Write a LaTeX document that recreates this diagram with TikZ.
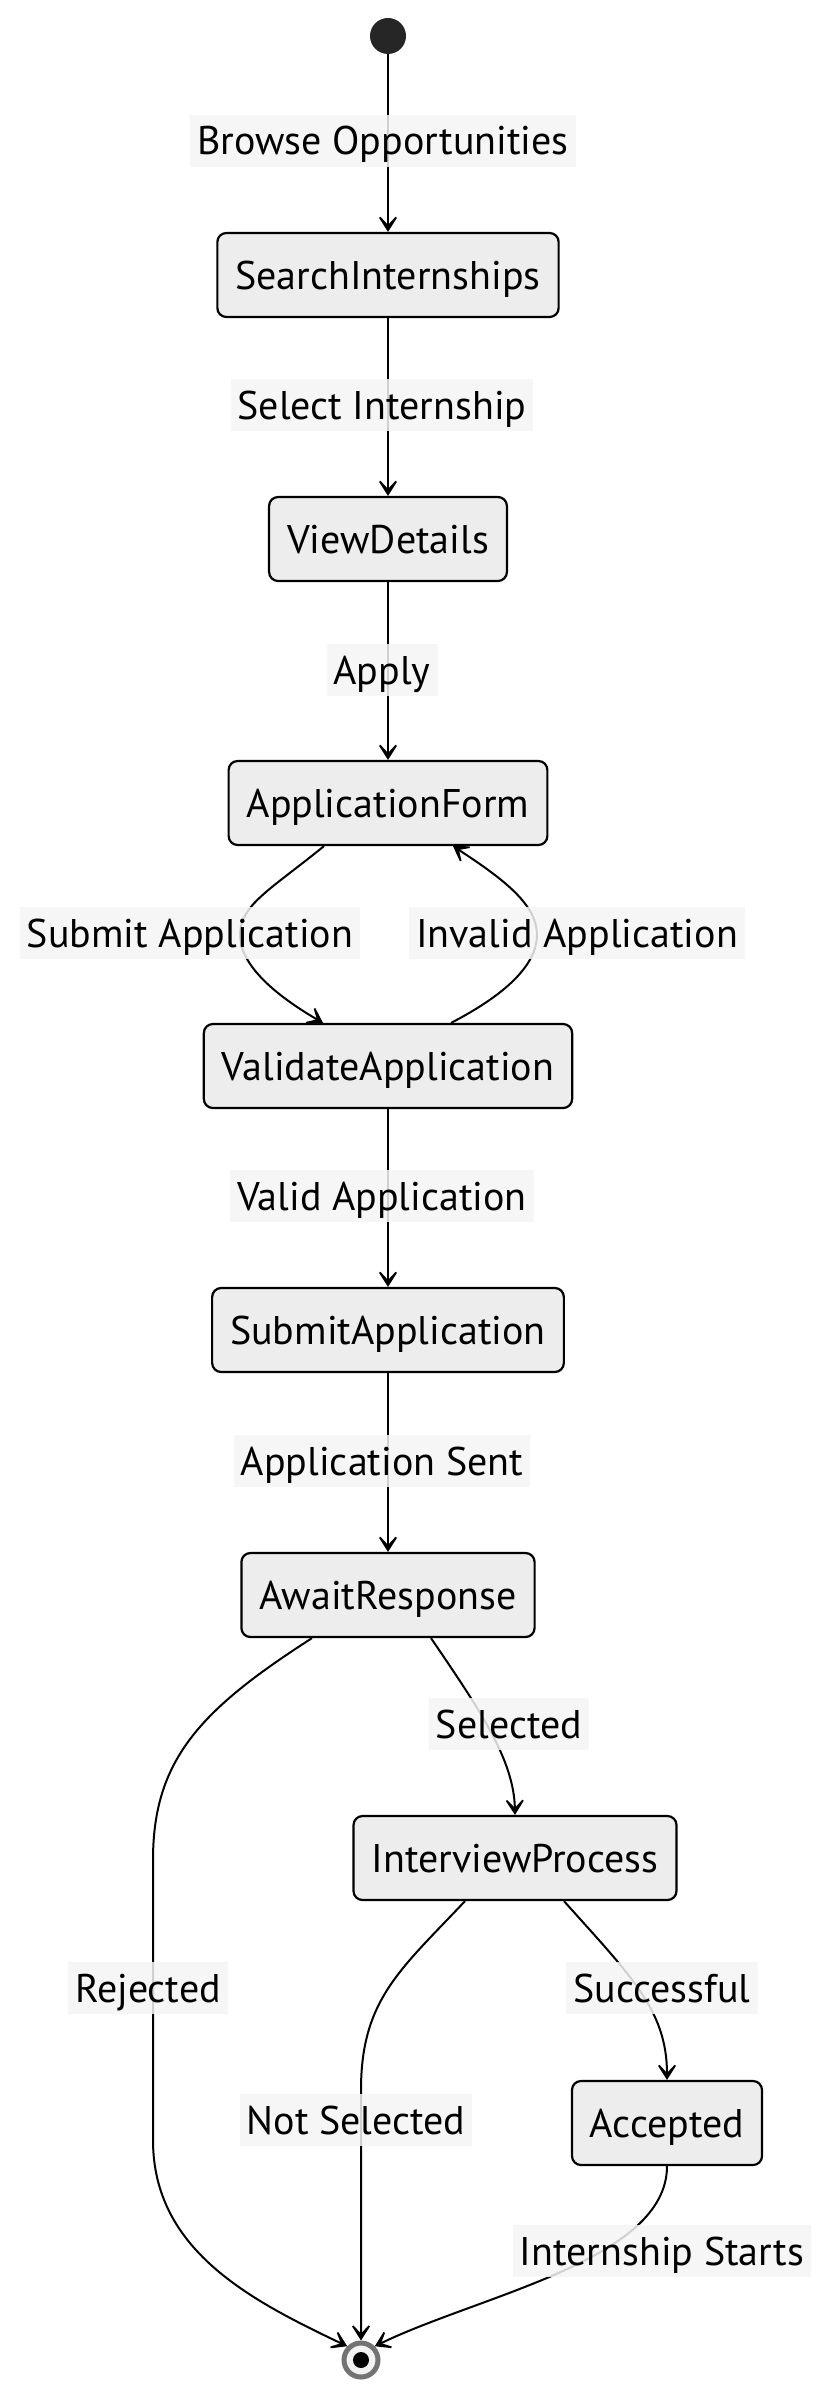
\documentclass[tikz,border=0pt]{standalone}
\usepackage{fontspec}
\setmainfont{PT Sans}
\usetikzlibrary{arrows.meta,calc}
\begin{document}
\begin{tikzpicture}[x=1pt,y=-1pt,
  state/.style={draw=black,line width=2.2pt,fill=gray!14,rounded corners=9pt,minimum height=84pt,inner xsep=18pt,text height=36pt,text depth=8pt,font=\fontsize{40}{44}\selectfont},
  lbl/.style={fill=gray!8,fill opacity=0.85,text opacity=1,inner xsep=7pt,minimum height=52pt,text height=36pt,text depth=8pt,inner ysep=1pt,font=\fontsize{40}{44}\selectfont},
  edge/.style={line width=2pt,-{Stealth[length=22pt,width=28pt,inset=15pt]}}]
\useasboundingbox (0,0) rectangle (832,2400);
\node[circle,fill=black!85,minimum size=36pt,inner sep=0pt] (start) at (388,36) {};
\node[state] (search) at (388,275) {SearchInternships};
\node[state] (view) at (388,539) {ViewDetails};
\node[state] (form) at (388,803) {ApplicationForm};
\node[state] (valid) at (388,1066) {ValidateApplication};
\node[state] (submit) at (388,1330) {SubmitApplication};
\node[state] (await) at (388,1595) {AwaitResponse};
\node[state] (interview) at (515,1858) {InterviewProcess};
\node[state] (accepted) at (667,2123) {Accepted};
\node[circle,draw=black!55,line width=5pt,fill=gray!10,minimum size=34pt,inner sep=0pt] (end) at (361,2360) {};
\fill[black] (end.center) circle (8pt);

\draw[edge] (start) -- (search.north);
\draw[edge] (search) -- (view.north);
\draw[edge] (view) -- (form.north);
\draw[edge] ($(form.south)+(-64,0)$) .. controls (270,890) and (240,905) .. (240,935) .. controls (240,965) and (275,995) .. ($(valid.north)+(-65,0)$);
\draw[edge] ($(valid.north)+(63,0)$) .. controls (505,995) and (537,965) .. (537,935) .. controls (537,905) and (505,880) .. ($(form.south)+(65,0)$);
\draw[edge] (valid) -- (submit.north);
\draw[edge] (submit) -- (await.north);
\draw[edge] ($(await.south)+(43,0)$) .. controls (480,1710) and (514,1760) .. (interview.north);
\draw[edge] ($(await.south)+(-76,0)$) .. controls (200,1710) and (153,1760) .. (153,1860) -- (153,2140) .. controls (153,2250) and (250,2300) .. (end.north west);
\draw[edge] ($(interview.south)+(-50,0)$) .. controls (400,1970) and (361,2000) .. (361,2090) -- (end.north);
\draw[edge] ($(interview.south)+(49,0)$) .. controls (630,1975) and (667,2010) .. (accepted.north);
\draw[edge] (accepted.south) .. controls (667,2260) and (480,2295) .. (end.north east);

\node[lbl] (l1) at (383,141) {Browse Opportunities};
\node[lbl] (l2) at (382,405) {Select Internship};
\node[lbl] (l3) at (382,670) {Apply};
\node[lbl] (l4) at (190,933) {Submit Application};
\node[lbl] (l5) at (577,933) {Invalid Application};
\node[lbl] (l6) at (382,1196) {Valid Application};
\node[lbl] (l7) at (382,1461) {Application Sent};
\node[lbl] (l8) at (509,1724) {Selected};
\node[lbl] (l9) at (148,1988) {Rejected};
\node[lbl] (l10) at (662,1988) {Successful};
\node[lbl] (l11) at (356,2120) {Not Selected};
\node[lbl] (l12) at (662,2251) {Internship Starts};
\end{tikzpicture}
\end{document}
